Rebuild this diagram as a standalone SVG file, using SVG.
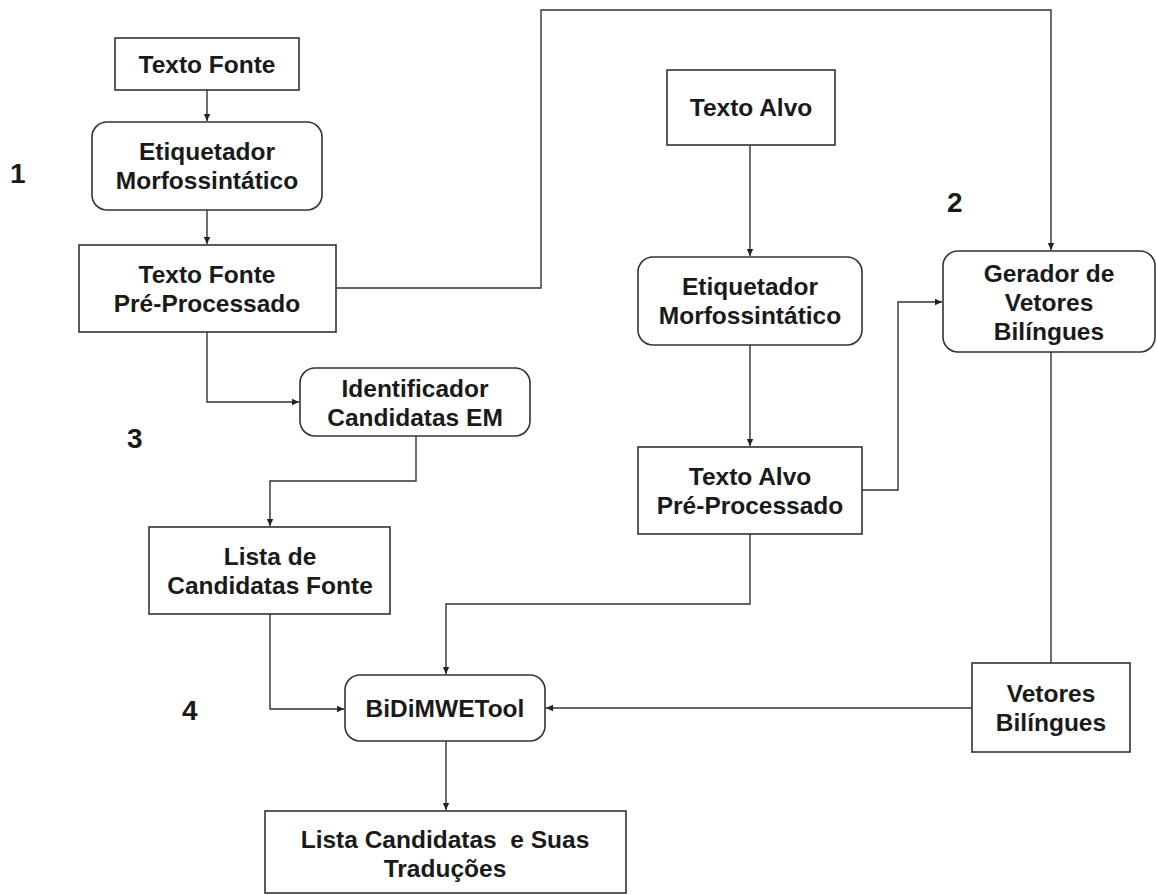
<svg xmlns="http://www.w3.org/2000/svg" width="1157" height="895" viewBox="0 0 1157 895">
<style>
.box{fill:#fff;stroke:#333;stroke-width:1.6}
.t{font-family:"Liberation Sans",Arial,sans-serif;font-weight:bold;font-size:24.5px;fill:#1a1a1a;text-anchor:middle}
.n{font-family:"Liberation Sans",Arial,sans-serif;font-weight:bold;font-size:28px;fill:#1a1a1a}
.c{fill:none;stroke:#333;stroke-width:1.4}
</style>
<defs>
<marker id="ah" markerWidth="8" markerHeight="8" refX="7" refY="4" orient="auto" markerUnits="userSpaceOnUse">
<path d="M0,0.8 L7,4 L0,7.2 Z" fill="#222"/>
</marker>
</defs>
<rect width="1157" height="895" fill="#fff"/>
<g id="connectors">
<path class="c" d="M207,90 V121" marker-end="url(#ah)"/>
<path class="c" d="M207,210 V244" marker-end="url(#ah)"/>
<path class="c" d="M336,288 H541 V10 H1051 V250" marker-end="url(#ah)"/>
<path class="c" d="M207,332 V402 H299" marker-end="url(#ah)"/>
<path class="c" d="M416,436 V481 H270 V526" marker-end="url(#ah)"/>
<path class="c" d="M270,614 V709 H344" marker-end="url(#ah)"/>
<path class="c" d="M750,145 V256" marker-end="url(#ah)"/>
<path class="c" d="M750,345 V446" marker-end="url(#ah)"/>
<path class="c" d="M862,490 H898 V302 H942" marker-end="url(#ah)"/>
<path class="c" d="M750,534 V604 H446 V674" marker-end="url(#ah)"/>
<path class="c" d="M1051,352 V663"/>
<path class="c" d="M972,708 H546" marker-end="url(#ah)"/>
<path class="c" d="M446,741 V810" marker-end="url(#ah)"/>
</g>
<g id="texto-fonte">
<rect class="box" x="115" y="38" width="184" height="52"/>
<text class="t" x="207" y="73">Texto Fonte</text>
</g>
<g id="etiquetador-1">
<rect class="box" x="92" y="122" width="230" height="88" rx="15"/>
<text class="t" x="207" y="160">Etiquetador</text>
<text class="t" x="207" y="189">Morfossintático</text>
</g>
<g id="texto-fonte-pp">
<rect class="box" x="79" y="245" width="257" height="87"/>
<text class="t" x="207" y="283">Texto Fonte</text>
<text class="t" x="207" y="312">Pré-Processado</text>
</g>
<g id="identificador">
<rect class="box" x="300" y="368" width="230" height="68" rx="15"/>
<text class="t" x="415" y="397">Identificador</text>
<text class="t" x="415" y="426">Candidatas EM</text>
</g>
<g id="lista-fonte">
<rect class="box" x="149" y="527" width="241" height="87"/>
<text class="t" x="270" y="565">Lista de</text>
<text class="t" x="270" y="594">Candidatas Fonte</text>
</g>
<g id="texto-alvo">
<rect class="box" x="667" y="70" width="168" height="75"/>
<text class="t" x="751" y="116">Texto Alvo</text>
</g>
<g id="etiquetador-2">
<rect class="box" x="638" y="257" width="224" height="88" rx="15"/>
<text class="t" x="750" y="295">Etiquetador</text>
<text class="t" x="750" y="324">Morfossintático</text>
</g>
<g id="texto-alvo-pp">
<rect class="box" x="638" y="447" width="224" height="87"/>
<text class="t" x="750" y="485">Texto Alvo</text>
<text class="t" x="750" y="514">Pré-Processado</text>
</g>
<g id="gerador">
<rect class="box" x="943" y="251" width="212" height="101" rx="15"/>
<text class="t" x="1049" y="282">Gerador de</text>
<text class="t" x="1049" y="311">Vetores</text>
<text class="t" x="1049" y="340">Bilíngues</text>
</g>
<g id="vetores">
<rect class="box" x="972" y="663" width="158" height="89"/>
<text class="t" x="1051" y="702">Vetores</text>
<text class="t" x="1051" y="731">Bilíngues</text>
</g>
<g id="bidimwetool">
<rect class="box" x="345" y="675" width="200" height="66" rx="15"/>
<text class="t" x="445" y="717">BiDiMWETool</text>
</g>
<g id="lista-traducoes">
<rect class="box" x="265" y="811" width="361" height="82"/>
<text class="t" x="445" y="848" xml:space="preserve">Lista Candidatas  e Suas</text>
<text class="t" x="445" y="877">Traduções</text>
</g>
<g id="labels">
<text class="n" x="10" y="183">1</text>
<text class="n" x="947" y="212">2</text>
<text class="n" x="127" y="448">3</text>
<text class="n" x="182" y="720">4</text>
</g>
</svg>
